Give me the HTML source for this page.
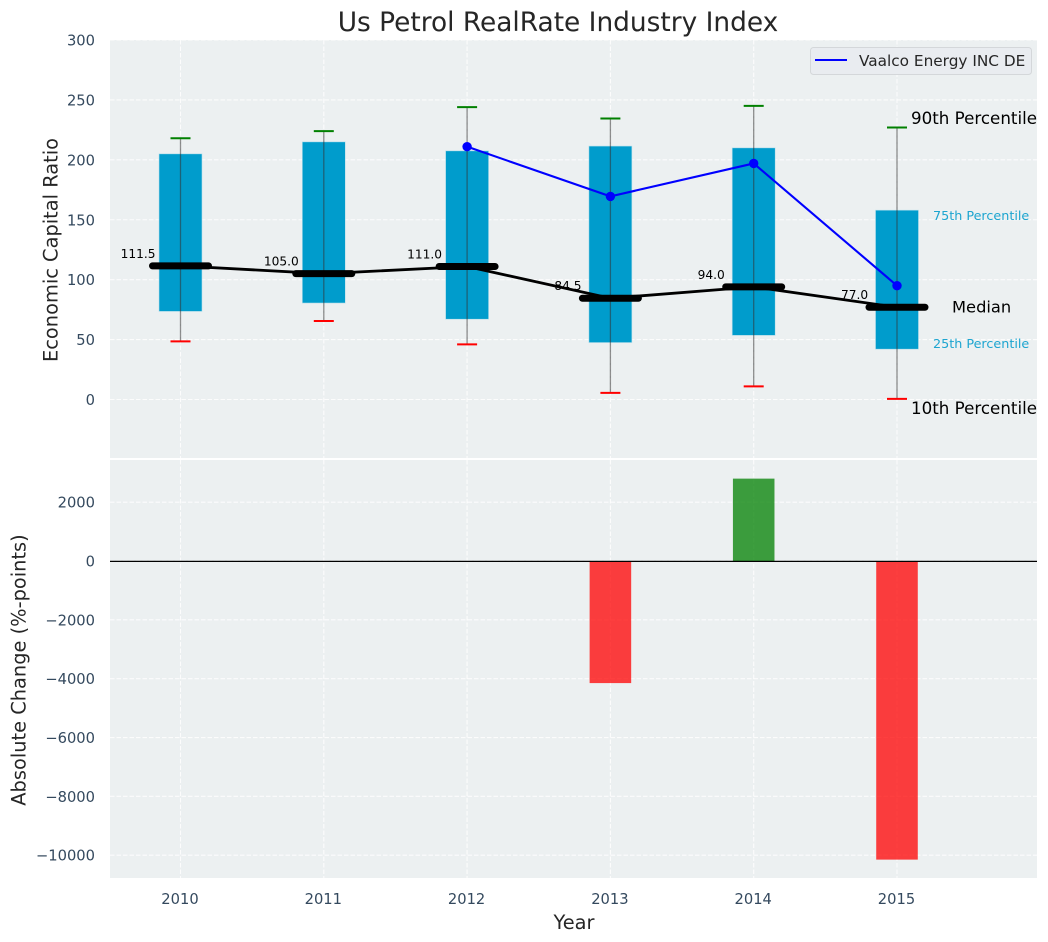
<!DOCTYPE html>
<html lang="en">
<head>
<meta charset="utf-8">
<title>Us Petrol RealRate Industry Index</title>
<style>
html,body{margin:0;padding:0;background:#fff;}
body{width:1048px;height:942px;overflow:hidden;}
svg{display:block;font-family:"DejaVu Sans","Liberation Sans",sans-serif;}
</style>
</head>
<body>
<svg id="chart" xmlns="http://www.w3.org/2000/svg" width="1048" height="942" viewBox="0 0 1048 942">
  <text x="558" y="31" text-anchor="middle" font-size="26.4" fill="#262626">Us Petrol RealRate Industry Index</text>
  <text transform="translate(57.5,250) rotate(-90)" text-anchor="middle" font-size="19.4" fill="#262626">Economic Capital Ratio</text>
  <text transform="translate(25.5,670) rotate(-90)" text-anchor="middle" font-size="19.4" fill="#262626">Absolute Change (%-points)</text>
  <text x="574" y="929" text-anchor="middle" font-size="19.4" fill="#262626">Year</text>
</svg>
<script>
const years = [2010, 2011, 2012, 2013, 2014, 2015];
const p90 = [218, 224, 244, 234.5, 245, 227];
const p75 = [205, 215, 207.5, 211.5, 210, 158];
const median = [111.5, 105, 111, 84.5, 94, 77];
const p25 = [73.5, 80.5, 67, 47.5, 53.5, 42];
const p10 = [48.5, 65.5, 46, 5.5, 11, 0.5];
const companyValues = [null, null, 211, 169.5, 197, 95];
const absoluteChange = [null, null, null, -4150, 2800, -10150];
const upperTicks = [0, 50, 100, 150, 200, 250, 300];
const lowerTicks = [-10000, -8000, -6000, -4000, -2000, 0, 2000];
const companyName = 'Vaalco Energy INC DE';

const svg = document.getElementById('chart');
const NS = 'http://www.w3.org/2000/svg';
const plotLeft = 110, plotRight = 1037;
const upperTop = 40, upperBottom = 458;
const lowerTop = 460, lowerBottom = 878;
const xScale = function (v) { return 180.5 + (v - 2010) * 143.3; };
const xSpan = function (v) { return v * 143.3; };
const yUpper = function (v) { return 399.5 - v * 1.1983; };
const yLower = function (v) { return 561 - v * 0.02942; };

function make(tag, attrs, text) {
  const node = document.createElementNS(NS, tag);
  for (const k in attrs) node.setAttribute(k, attrs[k]);
  if (text !== undefined) node.textContent = text;
  svg.appendChild(node);
  return node;
}
function tickText(v) { return String(v).replace('-', '\u2212'); }

let el;
el = make('rect', {x: plotLeft, y: upperTop, width: plotRight - plotLeft, height: upperBottom - upperTop, fill: '#ecf0f1'});


el = make('rect', {x: plotLeft, y: lowerTop, width: plotRight - plotLeft, height: lowerBottom - lowerTop, fill: '#ecf0f1'});



const gridStyle = {stroke: '#ffffff', 'stroke-width': 1.1, 'stroke-dasharray': '4.5 2', opacity: 0.85};

upperTicks.forEach(function (t) {
  const y = yUpper(t);
  el = make('line', Object.assign({x1: plotLeft, x2: plotRight, y1: y, y2: y}, gridStyle));
  
  
  el = make('text', {x: 95, y: y + 5.5, 'text-anchor': 'end', 'font-size': 14.7, fill: '#34495e'}, tickText(t));
  
  
});
lowerTicks.forEach(function (t) {
  const y = yLower(t);
  el = make('line', Object.assign({x1: plotLeft, x2: plotRight, y1: y, y2: y}, gridStyle));
  
  
  el = make('text', {x: 95, y: y + 5.5, 'text-anchor': 'end', 'font-size': 14.7, fill: '#34495e'}, tickText(t));
  
  
});
years.forEach(function (yr) {
  const x = xScale(yr);
  el = make('line', Object.assign({x1: x, x2: x, y1: upperTop, y2: upperBottom}, gridStyle));
  
  
  el = make('line', Object.assign({x1: x, x2: x, y1: lowerTop, y2: lowerBottom}, gridStyle));
  
  
  el = make('text', {x: x - 0.5, y: 904, 'text-anchor': 'middle', 'font-size': 14.7, fill: '#34495e'}, String(yr));
  
  
});

/* Percentile boxes */
years.forEach(function (yr, i) {
  const x = xScale(yr);
  const w = xSpan(0.3);
  el = make('rect', {x: x - w / 2, y: yUpper(p75[i]), width: w, height: yUpper(p25[i]) - yUpper(p75[i]), fill: '#009ccc', stroke: '#b8dfeb', 'stroke-width': 0.6});
  
  
  el = make('line', {x1: x, x2: x, y1: yUpper(p10[i]), y2: yUpper(p90[i]), stroke: '#333333', 'stroke-opacity': 0.55, 'stroke-width': 1.3});
  
  
  el = make('line', {x1: x - 10, x2: x + 10, y1: yUpper(p90[i]), y2: yUpper(p90[i]), stroke: '#008000', 'stroke-width': 2});
  
  
  el = make('line', {x1: x - 10, x2: x + 10, y1: yUpper(p10[i]), y2: yUpper(p10[i]), stroke: '#ff0000', 'stroke-width': 2});
  
  
});

/* Median trend */
el = make('polyline', {points: years.map(function (yr, i) { return xScale(yr) + ',' + yUpper(median[i]); }).join(' '), fill: 'none', stroke: '#000000', 'stroke-width': 2.8});


years.forEach(function (yr, i) {
  const x = xScale(yr), y = yUpper(median[i]);
  el = make('line', {x1: x - 28, x2: x + 28, y1: y, y2: y, stroke: '#000000', 'stroke-width': 7, 'stroke-linecap': 'round'});
  
  
  el = make('text', {x: x - xSpan(0.3) + 0.5, y: y - 8, 'text-anchor': 'middle', 'font-size': 12.2, fill: '#000000'}, median[i].toFixed(1));
  
  
});

/* Company series */
const companyPoints = [];
years.forEach(function (yr, i) {
  if (companyValues[i] !== null) companyPoints.push([xScale(yr), yUpper(companyValues[i])]);
});
el = make('polyline', {points: companyPoints.map(function (p) { return p.join(','); }).join(' '), fill: 'none', stroke: '#0000ff', 'stroke-width': 2.1});


companyPoints.forEach(function (p) {
  el = make('circle', {cx: p[0], cy: p[1], r: 4.7, fill: '#0000ff'});
  
  
});

/* Lower bars */
years.forEach(function (yr, i) {
  const v = absoluteChange[i];
  if (v === null) return;
  const w = xSpan(0.29);
  const top = Math.min(yLower(v), yLower(0));
  const h = Math.abs(yLower(v) - yLower(0));
  el = make('rect', {x: xScale(yr) - w / 2, y: top, width: w, height: h, fill: v < 0 ? '#ff0000' : '#008000', 'fill-opacity': 0.75});
  
  
});
el = make('line', {x1: plotLeft, x2: plotRight, y1: yLower(0) + 0.4, y2: yLower(0) + 0.4, stroke: '#000000', 'stroke-width': 1.2});



/* Percentile annotations on the last year */
const last = years.length - 1;
el = make('text', {x: 911, y: yUpper(p90[last]) - 3.5, 'font-size': 16.7, fill: '#000000'}, '90th Percentile');


el = make('text', {x: 933, y: yUpper(p75[last]) + 10, 'font-size': 12.75, fill: '#1da5d0'}, '75th Percentile');


el = make('text', {x: 952, y: yUpper(median[last]) + 5.5, 'font-size': 16.3, fill: '#000000'}, 'Median');


el = make('text', {x: 933, y: yUpper(p25[last]) - 1, 'font-size': 12.75, fill: '#1da5d0'}, '25th Percentile');


el = make('text', {x: 911, y: yUpper(p10[last]) + 15, 'font-size': 16.7, fill: '#000000'}, '10th Percentile');



/* Legend */
el = make('rect', {x: 810.5, y: 47.5, width: 221, height: 27, rx: 3, fill: '#e9ecf0', stroke: '#d4d7da', 'stroke-width': 1});


el = make('line', {x1: 815, x2: 847, y1: 60, y2: 60, stroke: '#0000ff', 'stroke-width': 2});


el = make('text', {x: 859, y: 66, 'font-size': 15.3, fill: '#262626'}, companyName);


</script>
</body>
</html>
